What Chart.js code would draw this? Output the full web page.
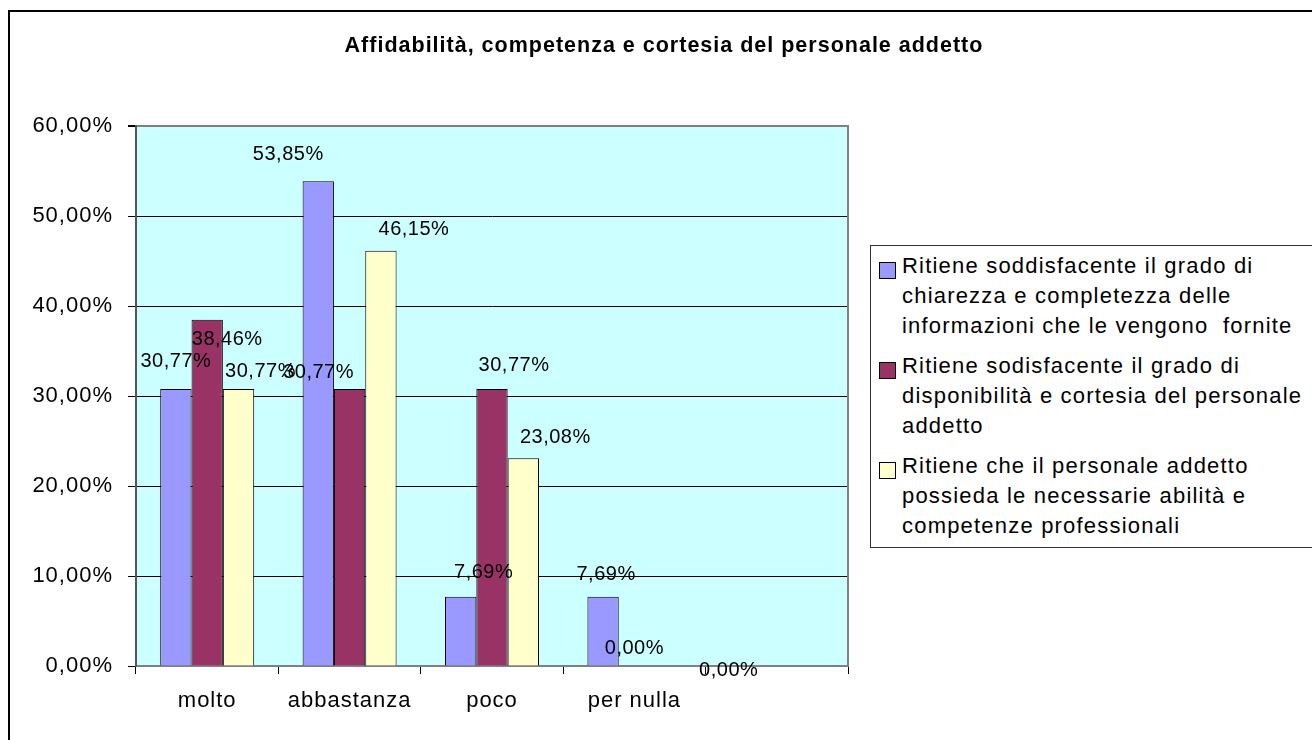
<!DOCTYPE html>
<html lang="it">
<head>
<meta charset="UTF-8">
<title>Affidabilità, competenza e cortesia del personale addetto</title>
<script src="https://cdn.jsdelivr.net/npm/chart.js"></script>
<style>
    body { margin: 0; width: 1312px; height: 740px; overflow: hidden; background: #fff; font-family: 'Liberation Sans', Arial, sans-serif; }
    #cornice { position: absolute; left: 8px; top: 10px; width: 1400px; height: 800px; border: 2px solid #000; pointer-events: none; }
    #grafico { position: absolute; left: 0; top: 0; width: 1312px; height: 740px; }
    #legenda { position: absolute; left: 870px; top: 245px; width: 470px; padding: 5px 0 6px 0; border: 1px solid #333; background: #fff; font-size: 22px; letter-spacing: 1.2px; color: #000; }
    .voce { position: relative; padding-left: 31px; margin-bottom: 10px; }
    .voce:last-child { margin-bottom: 0; }
    .voce .riga { line-height: 30px; white-space: pre; }
    .quadrato { position: absolute; left: 8px; top: 11px; width: 15px; height: 15px; border: 1px solid #000; }
</style>
</head>
<body>
    <div id="grafico"><canvas id="grafico-info"></canvas></div>
    <div id="legenda"></div>
    <div id="cornice"></div>

<script>
    const titolo = 'Affidabilità, competenza e cortesia del personale addetto';
    const categorie = ['molto', 'abbastanza', 'poco', 'per nulla', ''];
    const chiarezza = [30.77, 53.85, 7.69, 7.69, null];
    const cortesia = [38.46, 30.77, 30.77, 0.00, null];
    const competenza = [30.77, 46.15, 23.08, 0.00, null];
    const etichetteY = ['0,00%', '10,00%', '20,00%', '30,00%', '40,00%', '50,00%', '60,00%'];
    const nomiSerie = [
        ['Ritiene soddisfacente il grado di', 'chiarezza e completezza delle', 'informazioni che le vengono  fornite'],
        ['Ritiene sodisfacente il grado di', 'disponibilità e cortesia del personale', 'addetto'],
        ['Ritiene che il personale addetto', 'possieda le necessarie abilità e', 'competenze professionali']
    ];
    const colori = ['#9999FF', '#993366', '#FFFFCC'];

    // le etichette dei valori nell'originale sono spostate a mano: [dx, dy] dal centro/cima della barra
    const spostamenti = [
        [[0, -28], [-30, -27], [23, -24], [3, -22]],
        [[20, 20], [-31, -17], [22, -24], [0, -18]],
        [[22, -18], [33, -21], [32, -21], [63, 4]]
    ];

    const serie = [chiarezza, cortesia, competenza];

    // legenda in html, perché le voci vanno su più righe
    const legenda = document.getElementById('legenda');
    nomiSerie.forEach((righe, i) => {
        const voce = document.createElement('div');
        voce.classList.add('voce');
        const quadrato = document.createElement('span');
        quadrato.classList.add('quadrato');
        quadrato.style.background = colori[i];
        voce.appendChild(quadrato);
        righe.forEach(r => {
            const riga = document.createElement('div');
            riga.classList.add('riga');
            riga.textContent = r;
            voce.appendChild(riga);
        });
        legenda.appendChild(voce);
    });

    const spaziatura = {
        id: 'spaziatura',
        beforeUpdate(chart) { chart.ctx.letterSpacing = '1px'; },
        beforeDraw(chart) { chart.ctx.letterSpacing = '1px'; }
    };

    const sfondo = {
        id: 'sfondo',
        beforeDraw(chart) {
            const { ctx, chartArea: a } = chart;
            ctx.save();
            ctx.fillStyle = '#CCFFFF';
            ctx.fillRect(a.left, a.top, a.right - a.left, a.bottom - a.top);
            ctx.restore();
        }
    };

    const etichetteValori = {
        id: 'etichetteValori',
        afterDatasetsDraw(chart) {
            const ctx = chart.ctx;
            ctx.save();
            ctx.font = '20px "Liberation Sans", Arial, sans-serif';
            ctx.letterSpacing = '0.5px';
            ctx.fillStyle = '#000';
            ctx.textAlign = 'center';
            ctx.textBaseline = 'middle';
            chart.data.datasets.forEach((ds, i) => {
                chart.getDatasetMeta(i).data.forEach((bar, j) => {
                    const v = ds.data[j];
                    if (v === null || v === undefined) return;
                    const [dx, dy] = spostamenti[i][j];
                    ctx.fillText(v.toFixed(2).replace('.', ',') + '%', bar.x + dx, bar.y + dy);
                });
            });
            ctx.restore();
        }
    };

    Chart.defaults.font.family = "'Liberation Sans', Arial, sans-serif";
    Chart.defaults.color = '#000';

    const ctx = document.getElementById('grafico-info').getContext('2d');
    new Chart(ctx, {
        type: 'bar',
        data: {
            labels: categorie,
            datasets: serie.map((valori, i) => ({
                label: nomiSerie[i].join(' '),
                data: valori,
                backgroundColor: colori[i],
                borderColor: '#000',
                borderWidth: 1,
                categoryPercentage: 0.66,
                barPercentage: 1
            }))
        },
        options: {
            responsive: true,
            maintainAspectRatio: false,
            animation: false,
            layout: { padding: { left: 16 } },
            plugins: {
                title: {
                    display: true,
                    text: titolo,
                    color: '#000',
                    font: { size: 21.5, weight: 'bold' },
                    padding: { top: 33, bottom: 67.2 }
                },
                legend: { display: false },
                tooltip: { enabled: false }
            },
            scales: {
                x: {
                    grid: { drawOnChartArea: false, tickLength: 8, color: '#000' },
                    border: { color: '#808080', width: 2 },
                    ticks: { color: '#000', font: { size: 22 }, padding: 14, maxRotation: 0, autoSkip: false },
                    afterFit(s) { s.height = 74; }
                },
                y: {
                    min: 0,
                    max: 60,
                    ticks: {
                        stepSize: 10,
                        color: '#000',
                        font: { size: 22 },
                        padding: 15,
                        callback: (v, i) => etichetteY[i]
                    },
                    grid: {
                        color: c => (c.tick && (c.tick.value === 60 || c.tick.value === 0)) ? '#808080' : '#000',
                        lineWidth: c => (c.tick && c.tick.value === 60) ? 2 : 1,
                        tickLength: 8,
                        tickColor: '#000'
                    },
                    border: { color: '#555', width: 2 },
                    afterFit(s) { s.width = 120; }
                },
                y2: {
                    position: 'right',
                    grid: { display: false },
                    ticks: { display: false },
                    border: { color: '#808080', width: 2 },
                    afterFit(s) { s.width = 464; }
                }
            }
        },
        plugins: [spaziatura, sfondo, etichetteValori]
    });
</script>
</body>
</html>
